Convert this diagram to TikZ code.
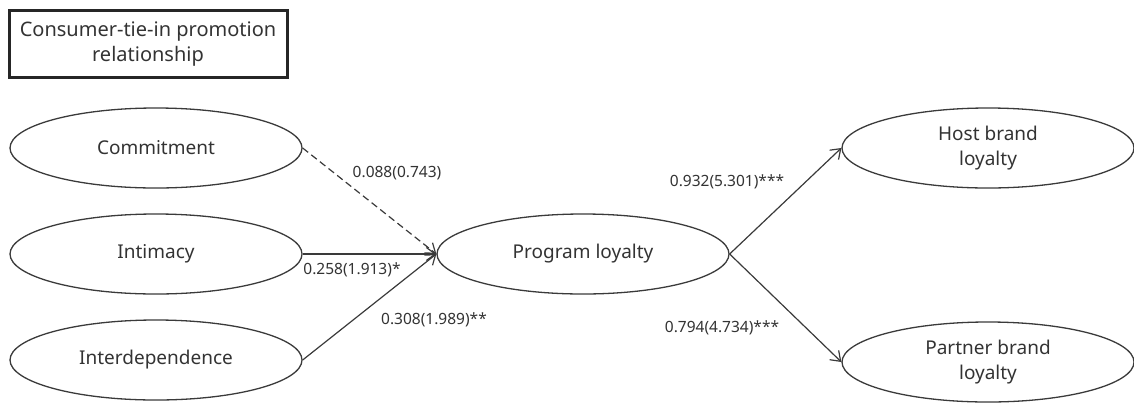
\documentclass[tikz,border=0pt]{standalone}
\usepackage{fontspec}
\setmainfont{Noto Sans}
\usetikzlibrary{shapes.geometric,arrows.meta}
\definecolor{txt}{HTML}{333333}
\definecolor{ln}{HTML}{3A3A3A}
\begin{document}
\begin{tikzpicture}[x=1pt,y=-1pt,
  oval/.style={draw=ln,line width=1.3pt,ellipse,minimum width=292pt,minimum height=80pt,inner sep=0pt,align=center,font=\fontsize{19}{25}\selectfont,text=txt},
  link/.style={draw=ln,line width=1.2pt,-{Straight Barb[length=9pt,width=13pt,line width=1.2pt]}},
  coef/.style={font=\fontsize{15.5}{18}\selectfont,text=txt,inner sep=0pt}]
\useasboundingbox (0,0) rectangle (1134,405);
\node[draw=black!85,line width=3pt,minimum width=278pt,minimum height=67pt,align=center,font=\fontsize{20}{25}\selectfont,text=txt] (title) at (148,44) {Consumer-tie-in promotion\\relationship};
\node[oval] (com) at (156,148) {Commitment};
\node[oval] (int) at (156,254) {Intimacy};
\node[oval] (idp) at (156,360) {Interdependence};
\node[oval] (pl) at (583,254) {Program loyalty};
\node[oval] (hb) at (988,148) {Host brand\\loyalty};
\node[oval] (pb) at (988,362) {Partner brand\\loyalty};
\draw[link,dash pattern=on 7pt off 4pt] (com.east) -- (pl.west);
\draw[link] (int.east) -- (pl.west);
\draw[link] (idp.east) -- (pl.west);
\draw[link] (pl.east) -- (hb.west);
\draw[link] (pl.east) -- (pb.west);
\node[coef] (l1) at (397,173) {0.088(0.743)};
\node[coef] (l2) at (352,270) {0.258(1.913)*};
\node[coef] (l3) at (434,320) {0.308(1.989)**};
\node[coef] (l4) at (727,182) {0.932(5.301)***};
\node[coef] (l5) at (722,328) {0.794(4.734)***};
\end{tikzpicture}
\end{document}
